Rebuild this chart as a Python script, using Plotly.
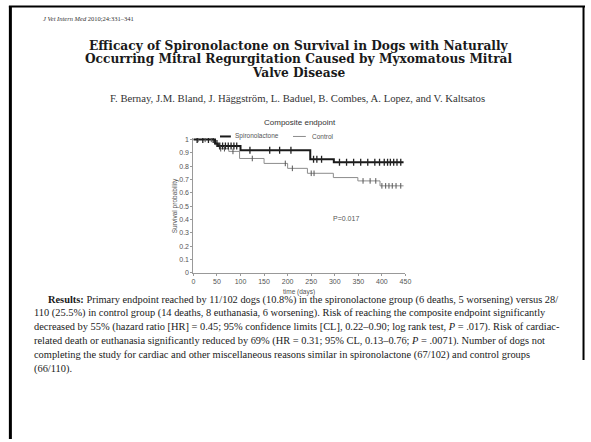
import plotly.graph_objects as go
import numpy as np

# ---- data ----
spiro_t = [0, 46, 52, 100, 248, 298, 446]
spiro_s = [1.0, 0.97, 0.95, 0.918, 0.852, 0.828, 0.828]
ctrl_t = [0, 46, 55, 75, 98, 150, 200, 242, 297, 349, 396, 446]
ctrl_s = [1.0, 0.96, 0.93, 0.91, 0.857, 0.82, 0.783, 0.746, 0.714, 0.689, 0.652, 0.652]
spiro_cens = [8, 20, 32, 42, 50, 56, 62, 68, 74, 80, 86, 92, 120, 162, 183, 207,
              255, 262, 272, 310, 325, 340, 355, 370, 385, 395, 405, 412, 418, 425, 432, 440]
ctrl_cens = [10, 25, 38, 58, 66, 84, 125, 195, 210, 250, 256, 360, 375, 387, 400, 408, 415, 422, 430, 440]
x_ticks = [0, 50, 100, 150, 200, 250, 300, 350, 400, 450]
y_ticks = [0, 0.1, 0.2, 0.3, 0.4, 0.5, 0.6, 0.7, 0.8, 0.9, 1]
y_tick_labels = ["0", "0.1", "0.2", "0.3", "0.4", "0.5", "0.6", "0.7", "0.8", "0.9", "1"]

results_lines = [
    "<b>Results:</b> Primary endpoint reached by 11/102 dogs (10.8%) in the spironolactone group (6 deaths, 5 worsening) versus 28/",
    "110 (25.5%) in control group (14 deaths, 8 euthanasia, 6 worsening). Risk of reaching the composite endpoint significantly",
    "decreased by 55% (hazard ratio [HR] = 0.45; 95% confidence limits [CL], 0.22–0.90; log rank test, <i>P</i> = .017). Risk of cardiac-",
    "related death or euthanasia significantly reduced by 69% (HR = 0.31; 95% CL, 0.13–0.76; <i>P</i> = .0071). Number of dogs not",
    "completing the study for cardiac and other miscellaneous reasons similar in spironolactone (67/102) and control groups",
    "(66/110).",
]
title_lines = [
    "Efficacy of Spironolactone on Survival in Dogs with Naturally",
    "Occurring Mitral Regurgitation Caused by Myxomatous Mitral",
    "Valve Disease",
]
authors = "F. Bernay, J.M. Bland, J. Häggström, L. Baduel, B. Combes, A. Lopez, and V. Kaltsatos"
journal = "<i>J Vet Intern Med</i> 2010;24:331–341"


def step_lookup(ts, ss, t):
    idx = np.searchsorted(np.array(ts), t, side="right") - 1
    return [ss[i] for i in idx]


W, H = 591, 442
fig = go.Figure()

fig.add_trace(go.Scatter(x=ctrl_t, y=ctrl_s, mode="lines", line=dict(shape="hv", color="#8c8c8c", width=1),
                         name="Control"))
fig.add_trace(go.Scatter(x=spiro_t, y=spiro_s, mode="lines", line=dict(shape="hv", color="#1a1a1a", width=2),
                         name="Spironolactone"))
fig.add_trace(go.Scatter(x=ctrl_cens, y=step_lookup(ctrl_t, ctrl_s, ctrl_cens), mode="markers",
                         marker=dict(symbol="line-ns-open", size=4, color="#555",
                                     line=dict(color="#555", width=1)),
                         showlegend=False))
fig.add_trace(go.Scatter(x=spiro_cens, y=step_lookup(spiro_t, spiro_s, spiro_cens), mode="markers",
                         marker=dict(symbol="line-ns-open", size=5, color="#222",
                                     line=dict(color="#222", width=1.3)),
                         showlegend=False))


def px(x):
    return x / W


def py(y):
    return 1 - y / H


fig.update_layout(
    width=W, height=H,
    margin=dict(l=0, r=0, t=0, b=0),
    paper_bgcolor="white", plot_bgcolor="white",
    showlegend=False,
    font=dict(family="Liberation Sans, Arial", color="#555", size=7),
    xaxis=dict(domain=[px(194), px(409)], range=[0, 450], tickvals=x_ticks,
               showgrid=False, zeroline=False, showline=True, linecolor="#999", linewidth=1,
               ticks="outside", ticklen=2, tickcolor="#999", tickfont=dict(size=7, color="#555")),
    yaxis=dict(domain=[py(274), py(137.6)], range=[0, 1.01], tickvals=y_ticks, ticktext=y_tick_labels,
               showgrid=False, zeroline=False, showline=True, linecolor="#999", linewidth=1,
               ticks="outside", ticklen=2, tickcolor="#999", tickfont=dict(size=7, color="#555")),
)

ann = []
ann.append(dict(x=px(40), y=py(17), xref="paper", yref="paper", xanchor="left", yanchor="middle",
                text=journal, showarrow=False, font=dict(family="Liberation Serif", size=6.5, color="#333")))
for i, t in enumerate(title_lines):
    ann.append(dict(x=px(301), y=py(44 + 13.9 * i), xref="paper", yref="paper", xanchor="center", yanchor="middle",
                    text="<b>" + t + "</b>", showarrow=False,
                    font=dict(family="DejaVu Serif", size=12.2, color="#1a1a1a")))
ann.append(dict(x=px(300), y=py(97), xref="paper", yref="paper", xanchor="center", yanchor="middle",
                text=authors, showarrow=False, font=dict(family="Liberation Serif", size=10.7, color="#333")))
# chart texts
ann.append(dict(x=px(302), y=py(122), xref="paper", yref="paper", xanchor="center", yanchor="middle",
                text="Composite endpoint", showarrow=False, font=dict(size=8, color="#333")))
ann.append(dict(x=px(234), y=py(136), xref="paper", yref="paper", xanchor="left", yanchor="middle",
                text="Spironolactone", showarrow=False, font=dict(size=6.5, color="#555")))
ann.append(dict(x=px(312), y=py(136), xref="paper", yref="paper", xanchor="left", yanchor="middle",
                text="Control", showarrow=False, font=dict(size=6.5, color="#555")))
ann.append(dict(x=px(301), y=py(293), xref="paper", yref="paper", xanchor="center", yanchor="middle",
                text="time (days)", showarrow=False, font=dict(size=6.5, color="#555")))
ann.append(dict(x=px(175), y=py(206), xref="paper", yref="paper", xanchor="center", yanchor="middle",
                text="Survival probability", textangle=-90, showarrow=False, font=dict(size=6.5, color="#555")))
ann.append(dict(x=293, y=0.407, xref="x", yref="y", xanchor="left", yanchor="middle",
                text="P=0.017", showarrow=False, font=dict(size=7, color="#555")))
# results paragraph
for i, t in enumerate(results_lines):
    ann.append(dict(x=px(45 if i == 0 else 30), y=py(301 + 14 * i), xref="paper", yref="paper",
                    xanchor="left", yanchor="middle", text=t, showarrow=False,
                    font=dict(family="Liberation Serif", size=10.4, color="#1a1a1a")))
fig.update_layout(annotations=ann)

shapes = [
    # page border
    dict(type="line", xref="paper", yref="paper", x0=px(8.5), x1=px(8.5), y0=py(4), y1=py(442),
         line=dict(color="black", width=3)),
    dict(type="line", xref="paper", yref="paper", x0=px(7), x1=px(591), y0=py(4.5), y1=py(4.5),
         line=dict(color="black", width=2)),
    dict(type="line", xref="paper", yref="paper", x0=px(589.5), x1=px(589.5), y0=py(4), y1=py(362),
         line=dict(color="black", width=2)),
    # legend lines
    dict(type="line", xref="paper", yref="paper", x0=px(221), x1=px(232), y0=py(136), y1=py(136),
         line=dict(color="#1a1a1a", width=2)),
    dict(type="line", xref="paper", yref="paper", x0=px(295), x1=px(308), y0=py(136), y1=py(136),
         line=dict(color="#8c8c8c", width=1)),
]
fig.update_layout(shapes=shapes)

fig.write_html("out.html", config={"displayModeBar": False, "staticPlot": True},
               post_script="document.body.style.margin='0';document.body.style.overflow='hidden';")
